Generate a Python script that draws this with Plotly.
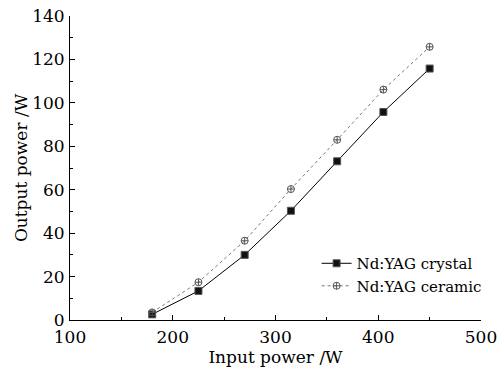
import plotly.graph_objects as go

input_power = [180, 225, 270, 315, 360, 405, 450]
crystal_output = [2.6, 13.4, 30.0, 50.3, 73.1, 95.8, 115.8]
ceramic_output = [3.5, 17.4, 36.5, 60.3, 83.0, 106.1, 125.8]

FONT = "DejaVu Serif"

fig = go.Figure()
fig.add_trace(go.Scatter(
    x=input_power, y=crystal_output, mode="lines+markers",
    name="Nd:YAG crystal",
    line=dict(color="black", width=1),
    marker=dict(symbol="square", size=7, color="#111111",
                line=dict(color="#555555", width=1)),
))
fig.add_trace(go.Scatter(
    x=input_power, y=ceramic_output, mode="lines+markers",
    name="Nd:YAG ceramic",
    line=dict(color="#777777", width=1, dash="dot"),
    marker=dict(symbol="circle-cross-open", size=7, color="#555555",
                line=dict(width=1)),
))

axis_common = dict(
    showline=True, linecolor="black", linewidth=1,
    ticks="inside", ticklen=5, tickcolor="black", tickwidth=1,
    showgrid=False, zeroline=False, mirror=False, automargin=False,
    ticklabeloverflow="allow",
    tickfont=dict(family=FONT, size=17, color="black"),
)

fig.update_xaxes(
    range=[100, 500], tickvals=[100, 200, 300, 400, 500],
    minor=dict(ticks="inside", ticklen=3, dtick=50, tick0=100, tickcolor="black"),
    ticklabelstandoff=2,
    title=dict(text="Input power /W", font=dict(family=FONT, size=17, color="black"), standoff=0),
    **axis_common,
)
fig.update_yaxes(
    range=[0, 140], tickvals=[0, 20, 40, 60, 80, 100, 120, 140],
    minor=dict(ticks="inside", ticklen=3, dtick=10, tick0=0, tickcolor="black"),
    ticklabelstandoff=1,
    title=dict(text="Output power /W", font=dict(family=FONT, size=17, color="black"), standoff=0),
    **axis_common,
)

fig.update_layout(
    width=501, height=372,
    margin=dict(l=70, r=20, t=16, b=52),
    plot_bgcolor="white", paper_bgcolor="white",
    showlegend=True,
    legend=dict(
        x=0.6, y=0.24, xanchor="left", yanchor="top",
        bgcolor="rgba(0,0,0,0)",
        font=dict(family=FONT, size=15, color="black"),
        itemwidth=30, tracegroupgap=0,
    ),
)

# remove the page's default body margin so the figure sits at the window's origin
fig.write_html("out.html", config={"displayModeBar": False},
               post_script="document.body.style.margin='0';")
